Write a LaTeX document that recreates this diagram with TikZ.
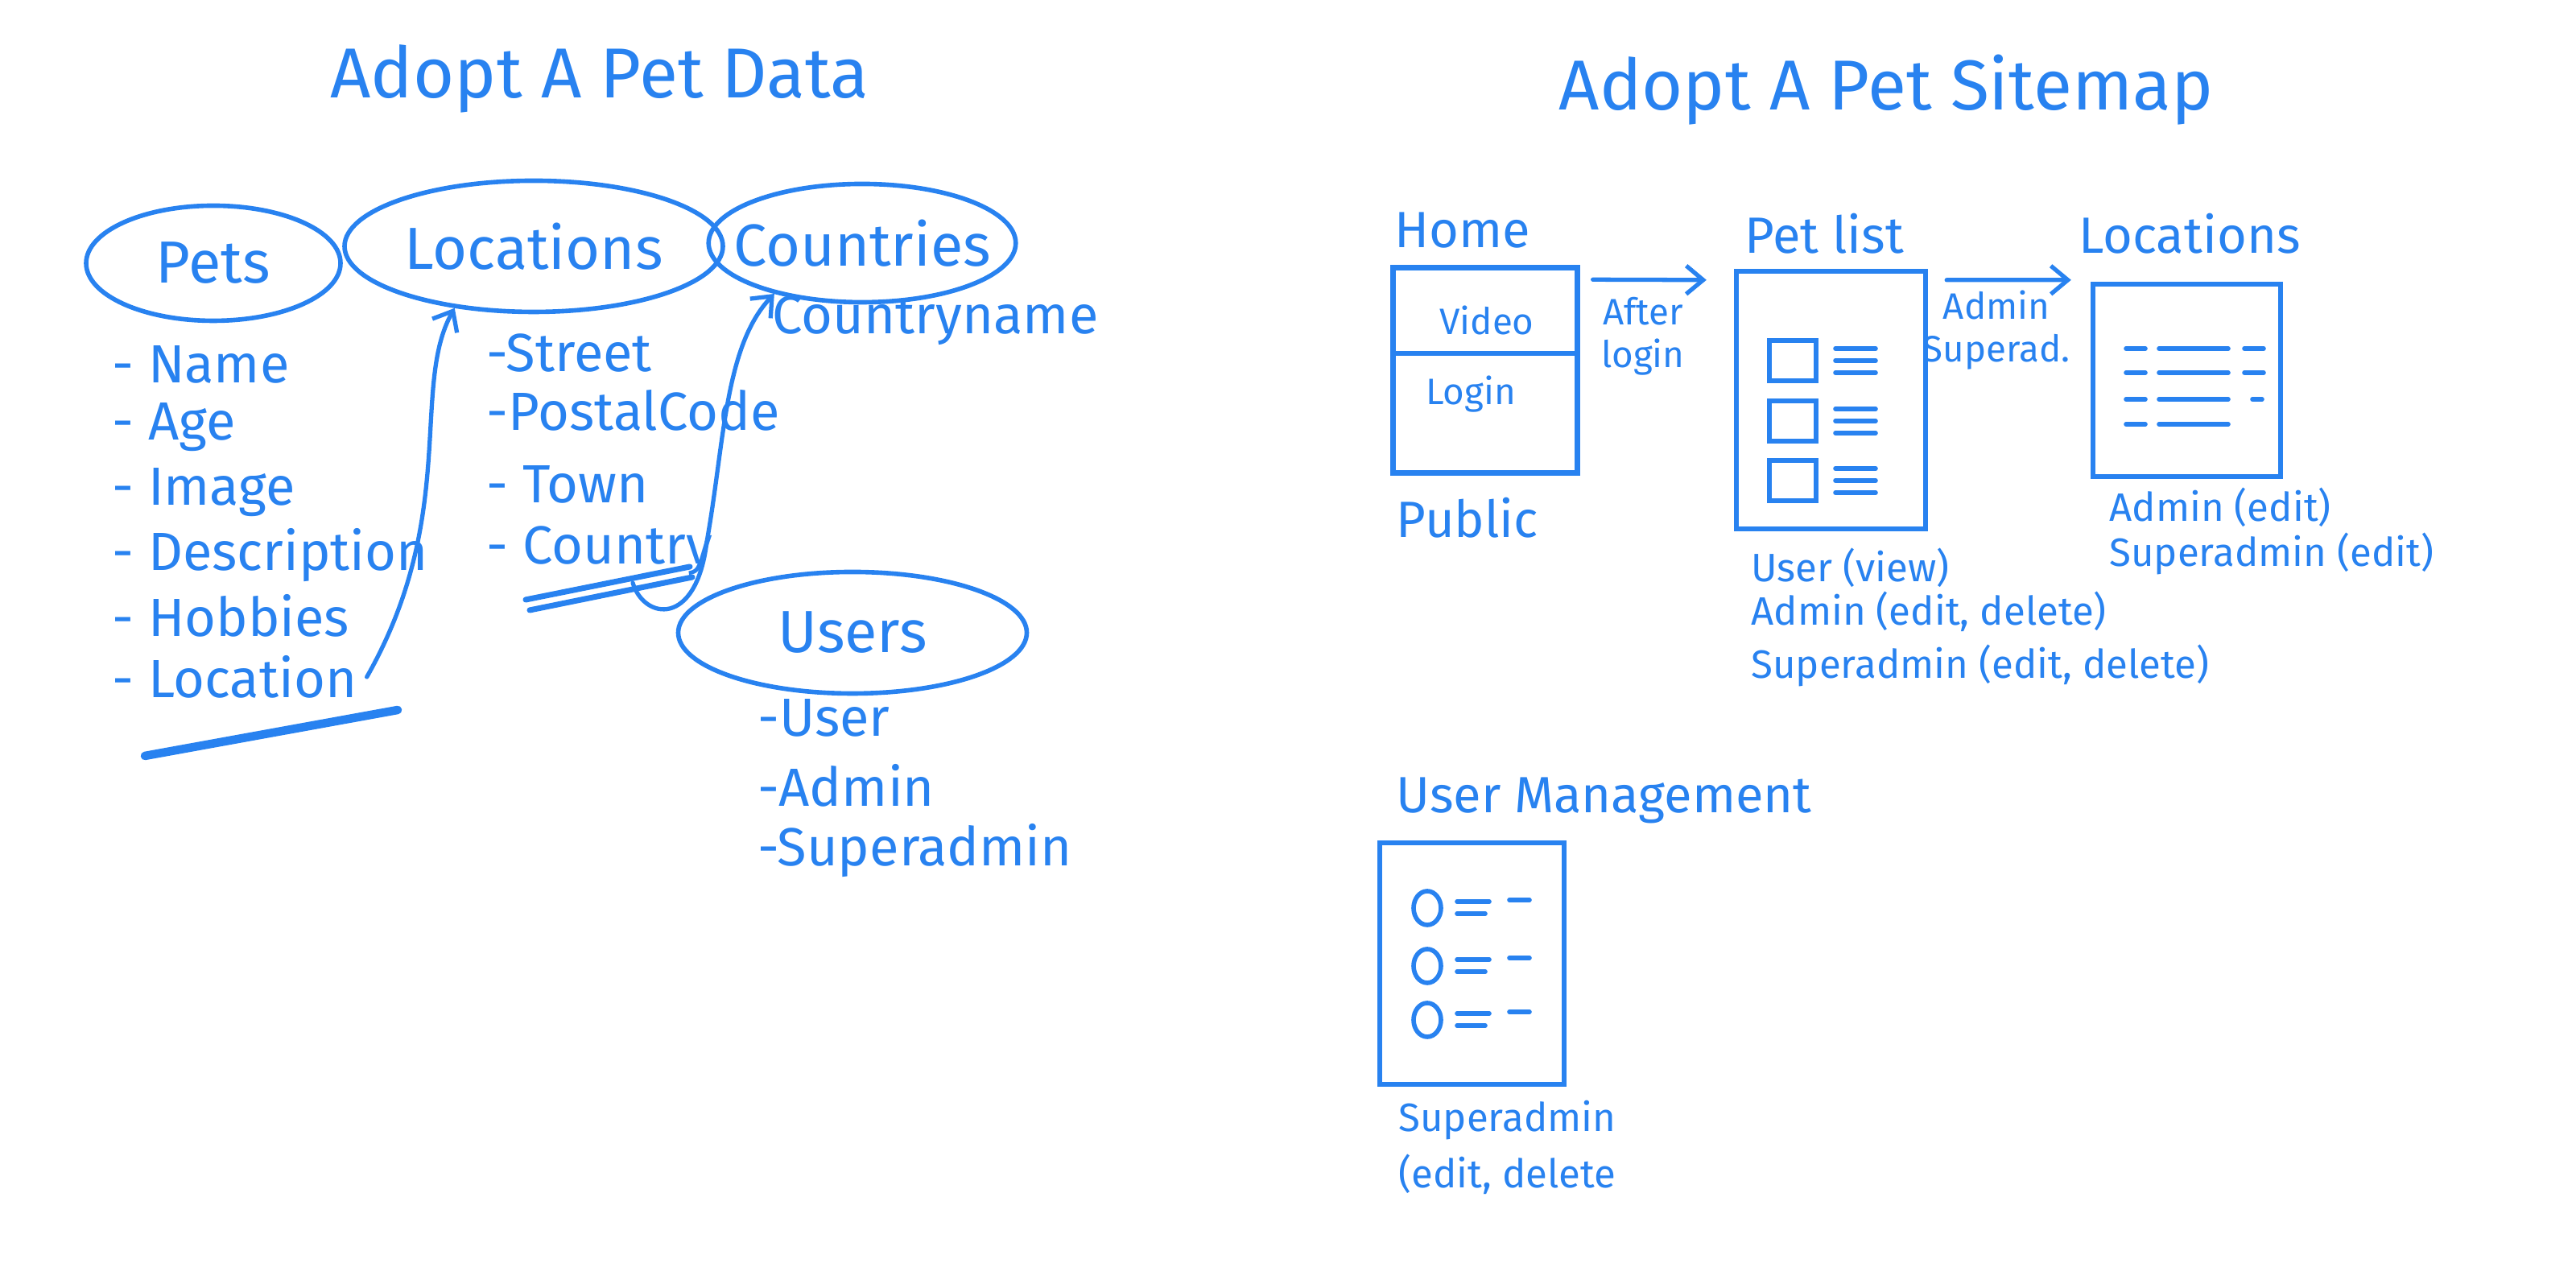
\documentclass[tikz,border=0pt]{standalone}
\usepackage{fontspec}
\setmainfont{Fira Sans}
\usepackage{xcolor}
\definecolor{pen_blue}{RGB}{40, 130, 240}
\usepackage{tikz}
\usetikzlibrary{arrows.meta, positioning, shapes.geometric, calc}

\begin{document}
\begin{tikzpicture}[pen_blue,
    every node/.style={text=pen_blue},
    title/.style={font=\fontsize{25}{30}\selectfont},
    entity/.style={draw, ellipse, line width=1.6pt, inner xsep=-0.25cm, inner ysep=0pt,
                   font=\fontsize{21}{25}\selectfont},
    attr/.style={anchor=west, font=\fontsize{19}{23}\selectfont},
    page/.style={draw, line width=1.8pt, inner sep=0pt},
    pagename/.style={font=\fontsize{18}{22}\selectfont},
    note/.style={anchor=west, font=\fontsize{14}{17}\selectfont},
    small/.style={font=\fontsize{13}{15}\selectfont, align=center},
    link/.style={-{Straight Barb[length=6pt, width=10pt]}, line width=1.5pt, line cap=round},
    scribble/.style={line width=2pt, line cap=round},
    icon/.style={line width=1.6pt, line cap=round}]
  \useasboundingbox (0,0) rectangle (32,16);

  \node[title] (t_data) at (7.45,15.02) {Adopt A Pet Data};
  \node[title] (t_map) at (23.43,14.88) {Adopt A Pet Sitemap};

  \node[entity, minimum width=3.16cm, minimum height=1.43cm] (pets) at (2.65,12.73) {Pets};
  \node[entity, minimum width=4.7cm, minimum height=1.63cm] (locations) at (6.63,12.94) {Locations};
  \node[entity, minimum width=3.78cm, minimum height=1.47cm] (countries) at (10.71,12.98) {Countries};
  \node[entity, minimum width=4.33cm, minimum height=1.51cm] (users) at (10.59,8.14) {Users};

  \node[attr] (pet_name) at (1.27,11.47) {- Name};
  \node[attr] (pet_age) at (1.27,10.69) {- Age};
  \node[attr] (pet_image) at (1.27,9.88) {- Image};
  \node[attr] (pet_desc) at (1.27,9.10) {- Description};
  \node[attr] (pet_hobbies) at (1.27,8.35) {- Hobbies};
  \node[attr] (pet_loc) at (1.27,7.59) {- Location};
  \draw[scribble, line width=3pt] (1.80,6.61) -- (4.94,7.18);
  \draw[link] (pet_loc.east) .. controls (5.7,9.6) and (5.1,11.2) .. (locations.218);

  \node[attr] (loc_street) at (5.92,11.61) {-Street};
  \node[attr] (loc_postal) at (5.92,10.90) {-PostalCode};
  \node[attr] (loc_town) at (5.92,9.98) {- Town};
  \node[attr] (loc_country) at (5.92,9.16) {- Country};
  \draw[scribble] (6.53,8.55) -- (8.57,8.96);
  \draw[scribble] (6.58,8.42) -- (8.60,8.83);
  \coordinate (ctry_hook) at (7.86,8.76);
  \draw[link] (ctry_hook) .. controls (8.0,8.3) and (8.65,8.2) .. (8.78,9.27)
    .. controls (9.0,10.5) and (9.0,11.7) .. (countries.210);

  \node[attr, anchor=center] (ctry_name) at (11.62,12.02) {Countryname};

  \node[attr] (usr_user) at (9.29,7.08) {-User};
  \node[attr] (usr_admin) at (9.29,6.24) {-Admin};
  \node[attr] (usr_super) at (9.29,5.43) {-Superadmin};

  \node[pagename] (home_t) at (18.17,13.14) {Home};
  \node[page, minimum width=2.29cm, minimum height=2.55cm] (home) at (18.45,11.40) {};
  \draw[page] ($(home.north west)!0.42!(home.south west)$) -- ($(home.north east)!0.42!(home.south east)$);
  \node[small] (video) at (18.47,12.02) {Video};
  \node[small] (login) at (18.27,11.10) {Login};
  \node[pagename] (public) at (18.23,9.57) {Public};

  \node[pagename] (plist_t) at (22.66,13.10) {Pet list};
  \node[page, minimum width=2.35cm, minimum height=3.2cm] (plist) at (22.745,11.03) {};
  \foreach \y in {11.52,10.77,10.03} {
    \draw[icon] (21.98,\y-0.25) rectangle (22.56,\y+0.25);
    \foreach \d in {0.15,0,-0.15}
      \draw[icon] (22.80,\y+\d) -- (23.30,\y+\d);
  }

  \node[pagename] (locs_t) at (27.20,13.10) {Locations};
  \node[page, minimum width=2.33cm, minimum height=2.39cm] (locs) at (27.165,11.275) {};
  \foreach \y in {11.67,11.37,11.04,10.73} {
    \draw[icon] (26.41,\y) -- (26.65,\y);
    \draw[icon] (26.82,\y) -- (27.68,\y);
  }
  \foreach \y in {11.67,11.37}
    \draw[icon] (27.88,\y) -- (28.12,\y);
  \draw[icon] (27.98,11.04) -- (28.10,11.04);

  \draw[link] ([xshift=0.16cm, yshift=-0.18cm]home.north east) -- ([xshift=-0.34cm, yshift=-0.14cm]plist.north west);
  \node[small] (after) at (20.41,11.82) {After\\login};
  \draw[link] ([xshift=0.23cm, yshift=-0.14cm]plist.north east) -- ([xshift=-0.24cm, yshift=0.02cm]locs.north west);
  \node[small] (admin_sup) at (24.80,11.90) {Admin\\Superad.};

  \node[note] (pl_user) at (21.63,8.95) {User (view)};
  \node[note] (pl_admin) at (21.63,8.40) {Admin (edit, delete)};
  \node[note] (pl_super) at (21.63,7.73) {Superadmin (edit, delete)};
  \node[note] (locs_admin) at (26.08,9.70) {Admin (edit)};
  \node[note] (locs_super) at (26.08,9.12) {Superadmin (edit)};

  \node[pagename, anchor=west] (um_t) at (17.22,6.06) {User Management};
  \node[page, minimum width=2.29cm, minimum height=3.0cm] (um) at (18.285,4.03) {};
  \foreach \y in {4.72,4.00,3.33} {
    \draw[icon] (17.73,\y) ellipse (0.17 and 0.21);
    \draw[icon] (18.10,\y+0.08) -- (18.50,\y+0.08);
    \draw[icon] (18.10,\y-0.07) -- (18.45,\y-0.07);
    \draw[icon] (18.75,\y+0.10) -- (19.00,\y+0.10);
  }
  \node[note] (um_super) at (17.25,2.08) {Superadmin};
  \node[note] (um_edit) at (17.25,1.41) {(edit, delete};
\end{tikzpicture}
\end{document}
